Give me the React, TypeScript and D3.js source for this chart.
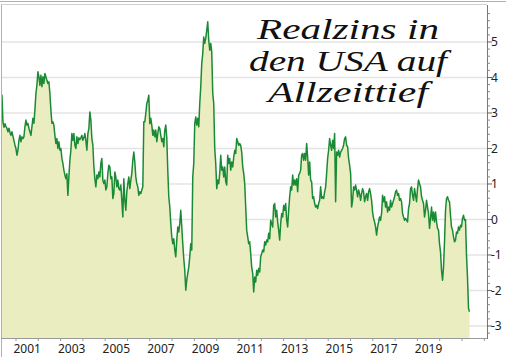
import React from "react";
import * as d3 from "d3";

// Observations: first date (decimal year) and spacing between observations (~16 days)
const firstObs = 2000.28;
const obsStep = 0.0448;

const realRate: number[] = [
  3.55, 3.55, 3.5, 2.75, 2.6, 2.7, 2.62, 2.57, 2.47, 2.57,
  2.45, 2.37, 2.47, 2.35, 2.23, 2.1, 2.0, 1.81, 1.95, 2.23,
  2.37, 2.19, 2.33, 2.28, 2.33, 2.61, 2.8, 2.66, 2.71, 2.57,
  2.47, 2.37, 2.61, 2.85, 2.71, 3.08, 3.55, 3.78, 4.16, 4.02,
  3.78, 4.06, 3.74, 4.02, 3.83, 4.11, 4.02, 3.92, 3.83, 3.88,
  3.55, 3.08, 2.71, 2.75, 2.66, 2.37, 2.14, 2.28, 2.0, 2.19,
  1.95, 2.0, 1.72, 1.58, 1.39, 1.25, 1.15, 1.29, 0.68, 1.2,
  1.67, 1.95, 2.42, 2.23, 2.42, 2.09, 2.0, 2.33, 2.14, 2.3,
  2.25, 2.3, 2.37, 2.23, 2.3, 2.42, 2.23, 1.95, 2.42, 2.56,
  3.03, 2.8, 2.28, 2.1, 1.5, 1.15, 0.92, 1.25, 1.15, 1.34,
  1.2, 1.58, 1.72, 1.11, 1.01, 1.11, 0.83, 0.92, 1.29, 1.53,
  1.48, 1.15, 1.2, 0.59, 0.73, 1.34, 1.2, 0.92, 1.11, 0.87,
  0.83, 0.97, 0.54, 0.07, 1.15, 0.54, 0.26, 0.78, 1.01, 1.2,
  0.87, 1.11, 1.3, 1.67, 1.9, 1.62, 1.2, 1.01, 0.92, 0.68,
  0.78, 0.73, 0.83, 0.92, 2.75, 2.75, 2.99, 3.27, 3.36, 3.5,
  2.7, 2.85, 2.66, 2.37, 2.52, 2.33, 2.52, 2.19, 2.42, 2.61,
  2.56, 2.37, 2.19, 2.28, 2.05, 2.52, 2.66, 2.3, 1.39, 0.64,
  0.36, -0.11, -0.49, -0.68, -0.54, -0.86, -1.05, -0.58, -0.21, -0.35,
  -0.11, 0.26, -0.21, -0.68, -1.1, -1.43, -1.99, -1.71, -1.52, -1.34,
  -1.05, -0.68, -0.86, 1.2, 1.58, 2.7, 2.89, 2.66, 2.85, 2.61,
  3.27, 3.74, 4.39, 4.68, 5.14, 4.96, 5.1, 5.33, 5.57, 5.05,
  4.77, 4.96, 4.72, 3.55, 3.27, 2.0, 1.58, 0.87, 1.11, 1.01,
  1.3, 1.81, 1.39, 1.48, 1.2, 1.48, 1.06, 0.97, 1.81, 1.58,
  1.72, 1.39, 1.62, 1.48, 1.76, 1.95, 1.86, 2.28, 2.19, 2.09,
  2.14, 2.09, 1.9, 1.48, 1.3, 1.01, 0.35, -0.3, -0.49, -0.68,
  -0.63, -0.96, -1.34, -1.52, -2.04, -1.62, -1.76, -1.43, -1.57, -1.38,
  -1.48, -1.05, -0.96, -0.86, -0.91, -0.63, -0.72, -0.58, -0.63, -0.39,
  -0.54, -0.02, -0.11, -0.21, 0.4, 0.45, 0.07, 0.26, -0.07, -0.3,
  -0.58, -0.11, 0.17, 0.07, 0.4, 0.26, 0.45, -0.02, -0.21, 0.26,
  0.64, 0.92, 0.83, 1.25, 0.97, 1.11, 0.97, 1.15, 0.78, 1.25,
  1.3, 1.39, 1.81, 1.86, 1.67, 1.86, 1.67, 2.14, 1.76, 1.25,
  1.62, 1.11, 1.06, 0.59, 0.64, 0.45, 0.35, 0.4, 0.31, 0.45,
  0.54, 0.92, 0.6, 0.64, 0.59, 0.78, 0.92, 1.3, 1.72, 1.95,
  2.28, 2.09, 1.95, 2.23, 2.0, 2.42, 0.5, 1.9, 1.81, 1.95,
  1.76, 1.9, 1.95, 2.0, 2.1, 2.28, 2.33, 2.09, 2.05, 1.72,
  1.53, 1.3, 0.35, 0.54, 0.92, 0.83, 0.97, 0.83, 0.64, 0.83,
  0.73, 0.54, 0.73, 0.87, 0.78, 0.5, 0.64, 0.73, 0.54, 0.78,
  0.87, 0.73, 0.54, 0.21, 0.03, -0.07, -0.21, -0.44, -0.21, -0.07,
  0.07, -0.02, 0.17, 0.68, 0.5, 0.64, 0.35, 0.5, 0.21, 0.35,
  0.26, 0.54, 0.35, 0.45, 0.54, 0.64, 0.78, 0.83, 0.68, 0.73,
  0.54, 0.59, 0.5, 0.17, 0.07, -0.02, 0.03, -0.02, -0.07, 0.31,
  0.45, 0.87, 0.92, 0.68, 0.54, 0.87, 0.68, 0.5, 0.87, 1.11,
  1.01, 0.92, 0.64, 0.54, 0.45, 0.07, 0.26, 0.54, 0.35, 0.17,
  -0.25, 0.03, 0.35, -0.02, 0.21, -0.07, 0.21, -0.07, -0.25, -0.3,
  -0.68, -0.91, -1.43, -1.71, -1.34, -0.63, 0.26, 0.59, 0.64, 0.54,
  0.5, 0.12, -0.21, -0.3, -0.49, -0.63, -0.58, -0.35, -0.39, -0.21,
  -0.3, -0.16, -0.21, 0.03, 0.12, -0.02, 0.0, -1.0, -1.62, -2.5,
  -2.6,
];

const yTicks = [-3, -2, -1, 0, 1, 2, 3, 4, 5];
const yearTicks = d3.range(2001, 2023);
const yearLabels = [2001, 2003, 2005, 2007, 2009, 2011, 2013, 2015, 2017, 2019];
const titleLines = ["Realzins in", "den USA auf", "Allzeittief"];
const titleWidths = [182, 198, 160];

const W = 506;
const H = 357;
const plot = { left: 1, right: 487, top: 5, bottom: 338 };

export default function App() {
  const data = realRate.map((v, i) => ({ t: firstObs + i * obsStep, v }));

  const x = d3
    .scaleLinear()
    .domain([2000.3274, 2022.1211])
    .range([plot.left, plot.right]);
  const y = d3
    .scaleLinear()
    .domain([-3.338, 6.042])
    .range([plot.bottom, plot.top]);

  const area = d3
    .area<{ t: number; v: number }>()
    .x((d) => x(d.t))
    .y0(plot.bottom)
    .y1((d) => y(d.v));
  const line = d3
    .line<{ t: number; v: number }>()
    .x((d) => x(d.t))
    .y((d) => y(d.v));

  const minorTicks = d3.range(-3.2, 6.0, 0.2).filter(
    (v) => Math.abs(v - Math.round(v)) > 0.01 && y(v) > plot.top && y(v) < plot.bottom
  );

  const font = "'Noto Sans', 'Open Sans', sans-serif";

  return (
    <svg
      width={W}
      height={H}
      style={{ position: "absolute", left: 0, top: 0, background: "#fff" }}
    >
      <defs>
        <clipPath id="plotClip">
          <rect
            x={plot.left}
            y={plot.top}
            width={plot.right - plot.left}
            height={plot.bottom - plot.top}
          />
        </clipPath>
      </defs>
      {/* gridlines */}
      {yTicks.map((v) => (
        <line
          key={"g" + v}
          x1={plot.left}
          x2={plot.right}
          y1={y(v)}
          y2={y(v)}
          stroke="#e4e4e4"
          strokeWidth={1.5}
        />
      ))}
      <g clipPath="url(#plotClip)">
        <path d={area(data) || ""} fill="#eaedc0" />
        <path
          d={line(data) || ""}
          fill="none"
          stroke="#1b8a35"
          strokeWidth={1.5}
          strokeLinejoin="round"
        />
      </g>
      {/* frame */}
      <line x1={0} x2={W} y1={1.5} y2={1.5} stroke="#b0b0b0" strokeWidth={1} />
      <line x1={plot.left} x2={plot.right} y1={plot.top - 0.5} y2={plot.top - 0.5} stroke="#d0d0d0" strokeWidth={1} />
      <line x1={1.5} x2={1.5} y1={plot.top} y2={H} stroke="#b0b0b0" strokeWidth={1} />
      <line x1={plot.left} x2={plot.right} y1={plot.bottom + 0.5} y2={plot.bottom + 0.5} stroke="#9a9a9a" strokeWidth={1} />
      <line x1={plot.right + 0.5} x2={plot.right + 0.5} y1={plot.top} y2={plot.bottom + 1} stroke="#777" strokeWidth={1} />
      {/* y axis ticks */}
      {minorTicks.map((v, i) => (
        <line key={"m" + i} x1={plot.right} x2={plot.right + 3} y1={y(v)} y2={y(v)} stroke="#888" strokeWidth={1} />
      ))}
      {yTicks.map((v) => (
        <g key={"yt" + v}>
          <line x1={plot.right} x2={plot.right + 5} y1={y(v)} y2={y(v)} stroke="#666" strokeWidth={1} />
          <text
            x={plot.right + 4}
            y={y(v)}
            dy="0.36em"
            fontFamily={font}
            fontSize={12}
            fill="#222"
          >
            {String(v)}
          </text>
        </g>
      ))}
      {/* x axis ticks */}
      {yearTicks.map((yr) => (
        <line
          key={"xt" + yr}
          x1={x(yr)}
          x2={x(yr)}
          y1={plot.bottom}
          y2={plot.bottom + 3}
          stroke="#999"
          strokeWidth={1}
        />
      ))}
      {yearLabels.map((yr) => (
        <text
          key={"xl" + yr}
          x={x(yr + 0.5)}
          y={349}
          dy="0.36em"
          textAnchor="middle"
          fontFamily={font}
          fontSize={12}
          fill="#222"
        >
          {String(yr)}
        </text>
      ))}
      {/* title */}
      {titleLines.map((s, i) => (
        <text
          key={"t" + i}
          x={348 - titleWidths[i] / 2}
          y={39 + i * 31.5}
          textLength={titleWidths[i]}
          lengthAdjust="spacingAndGlyphs"
          fontFamily="'Liberation Serif', serif"
          fontStyle="italic"
          fontSize={29}
          fill="#111"
        >
          {s}
        </text>
      ))}
    </svg>
  );
}
